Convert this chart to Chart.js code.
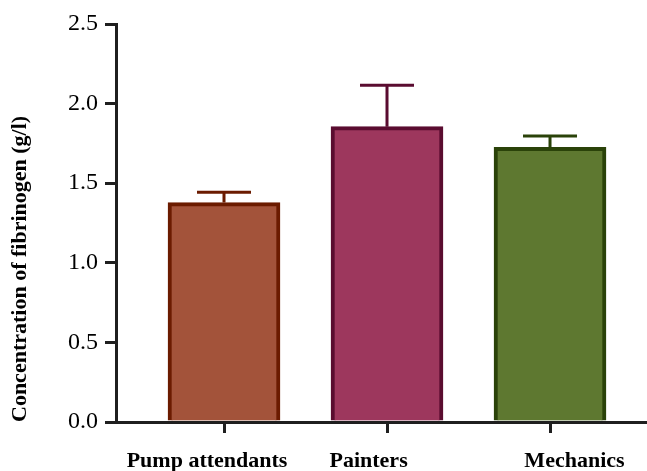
<!DOCTYPE html>
<html>
<head>
<meta charset="utf-8">
<script src="https://cdn.jsdelivr.net/npm/chart.js@4.4.1/dist/chart.umd.min.js"></script>
<style>
html,body{margin:0;padding:0;background:#fff;}
canvas{display:block;}
</style>
</head>
<body>
<canvas id="c" width="647" height="471"></canvas>
<script>
// ---- data ----
const categories = ['Pump attendants', 'Painters', 'Mechanics'];
const means = [1.378, 1.855, 1.726];
const errors = [0.065, 0.26, 0.07];
const yTickValues = [0, 0.5, 1.0, 1.5, 2.0, 2.5];
const fillColors = ['#A3533A', '#9D375D', '#5E7830'];
const edgeColors = ['#6B1B00', '#5A0C30', '#2A4209'];

// ---- layout constants ----
const X_MIN = 0.3374, X_MAX = 3.595;
const labelPositions = [0.896, 1.887, 3.150];
const AXIS = '#1f1f1f';
const SERIF = '"Liberation Serif", "Times New Roman", serif';

const errorBars = {
  id: 'errorBars',
  afterDatasetsDraw(chart) {
    const meta = chart.getDatasetMeta(0);
    const ys = chart.scales.y;
    const ctx = chart.ctx;
    ctx.save();
    meta.data.forEach((bar, i) => {
      const top = ys.getPixelForValue(means[i]);
      const cap = ys.getPixelForValue(means[i] + errors[i]);
      ctx.strokeStyle = edgeColors[i];
      ctx.lineWidth = 3;
      ctx.beginPath();
      ctx.moveTo(bar.x, top);
      ctx.lineTo(bar.x, cap);
      ctx.moveTo(bar.x - 27, cap);
      ctx.lineTo(bar.x + 27, cap);
      ctx.stroke();
    });
    ctx.restore();
  }
};

new Chart(document.getElementById('c'), {
  type: 'bar',
  data: {
    datasets: [{
      data: categories.map((c, i) => ({ x: i + 1, y: means[i] })),
      backgroundColor: fillColors,
      borderColor: edgeColors,
      borderWidth: 4,
      borderSkipped: 'start',
      barThickness: 112
    }]
  },
  options: {
    responsive: false,
    animation: false,
    devicePixelRatio: 1,
    layout: { padding: { top: 24, right: 0, bottom: 0, left: 0 } },
    plugins: { legend: { display: false }, tooltip: { enabled: false } },
    scales: {
      x: {
        type: 'linear',
        position: 'bottom',
        weight: 0,
        offset: false,
        min: X_MIN, max: X_MAX,
        afterBuildTicks: s => { s.ticks = categories.map((c, i) => ({ value: i + 1 })); },
        ticks: { display: false },
        grid: { offset: false, drawOnChartArea: false, drawTicks: true, tickLength: 11, lineWidth: 3, color: AXIS },
        border: { display: true, width: 3, color: AXIS },
        afterFit: s => { s.height = 12; }
      },
      x2: {
        type: 'linear',
        position: 'bottom',
        weight: 1,
        offset: false,
        min: X_MIN, max: X_MAX,
        afterBuildTicks: s => { s.ticks = labelPositions.map(v => ({ value: v })); },
        ticks: {
          autoSkip: false, maxRotation: 0, padding: 6,
          color: '#000',
          font: { family: SERIF, size: 22, weight: 'bold' },
          callback: (v, i) => categories[i]
        },
        grid: { display: false, offset: false },
        border: { display: false },
        afterFit: s => { s.height = 37; }
      },
      y: {
        min: 0, max: 2.5,
        afterBuildTicks: s => { s.ticks = yTickValues.map(v => ({ value: v })); },
        ticks: {
          padding: 7,
          color: '#000',
          font: { family: SERIF, size: 24 },
          callback: v => Number(v).toFixed(1)
        },
        grid: { drawOnChartArea: false, drawTicks: true, tickLength: 11, lineWidth: 3, color: AXIS },
        border: { display: true, width: 3, color: AXIS },
        title: {
          display: true,
          text: 'Concentration of fibrinogen (g/l)',
          color: '#000',
          align: 'start',
          font: { family: SERIF, size: 22, weight: 'bold' },
          padding: { top: 7, bottom: 0 }
        },
        afterFit: s => { s.width = 116; }
      }
    }
  },
  plugins: [errorBars]
});
</script>
</body>
</html>
